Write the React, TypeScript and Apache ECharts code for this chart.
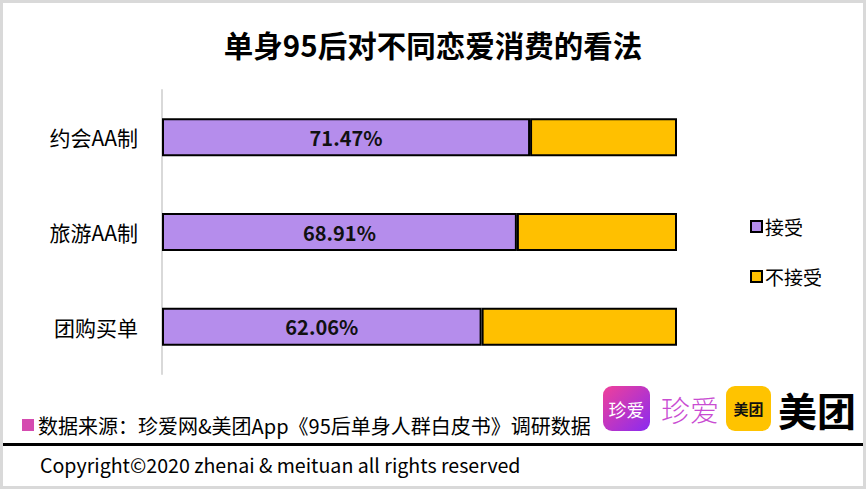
import React, { useEffect, useRef } from "react";
import * as echarts from "echarts";

const categories = ["约会AA制", "旅游AA制", "团购买单"];
const acceptValues = [71.47, 68.91, 62.06];
const rejectValues = [28.53, 31.09, 37.94];
const seriesNames = ["接受", "不接受"];
const titleText = "单身95后对不同恋爱消费的看法";
const sourceText = "数据来源：珍爱网&美团App《95后单身人群白皮书》调研数据";
const copyrightText = "Copyright©2020 zhenai & meituan all rights reserved";

const CJK = '"Noto Sans CJK SC", "Noto Sans", sans-serif';

export default function App() {
  const ref = useRef<HTMLDivElement>(null);
  useEffect(() => {
    if (!ref.current) return;
    const chart = echarts.init(ref.current, null, { renderer: "svg" });
    chart.setOption({
      animation: false,
      backgroundColor: "#ffffff",
      textStyle: { fontFamily: CJK },
      title: {
        text: titleText,
        left: "center",
        top: 24,
        textStyle: { fontSize: 29.5, fontWeight: "bold", color: "#000", fontFamily: CJK },
      },
      legend: {
        orient: "vertical",
        left: 745,
        top: 212,
        icon: "rect",
        itemWidth: 11,
        itemHeight: 11,
        itemGap: 31,
        data: seriesNames,
        itemStyle: { borderColor: "#000", borderWidth: 2 },
        textStyle: { fontSize: 19, color: "#000", fontFamily: CJK, padding: [0, 0, 0, -2] },
      },
      grid: { left: 162, right: 189, top: 90, bottom: 115, containLabel: false },
      xAxis: { type: "value", min: 0, max: 100, show: false },
      yAxis: {
        type: "category",
        inverse: true,
        data: categories,
        axisLine: { show: true, lineStyle: { color: "#d9d9d9", width: 2 } },
        axisTick: { show: false },
        axisLabel: { fontSize: 21, color: "#000", margin: 24, fontFamily: CJK },
        splitLine: { show: false },
      },
      series: [
        {
          name: seriesNames[0],
          type: "bar",
          stack: "total",
          barWidth: 38,
          data: acceptValues,
          itemStyle: { color: "#B58DEC", borderColor: "#000", borderWidth: 2 },
          label: {
            show: true,
            position: "inside",
            formatter: "{c}%",
            fontSize: 20,
            fontWeight: "bold",
            color: "#111",
            fontFamily: CJK,
          },
        },
        {
          name: seriesNames[1],
          type: "bar",
          stack: "total",
          barWidth: 38,
          data: rejectValues,
          itemStyle: { color: "#FFC000", borderColor: "#000", borderWidth: 2 },
        },
      ],
      graphic: [
        {
          type: "rect",
          shape: { x: 1.5, y: 1.5, width: 863, height: 486 },
          style: { fill: "none", stroke: "#d9d9d9", lineWidth: 3 },
          silent: true,
        },
        {
          type: "rect",
          shape: { x: 22, y: 419, width: 12, height: 12 },
          style: { fill: "#D54BB0" },
        },
        {
          type: "text",
          x: 38,
          y: 425,
          style: {
            text: sourceText,
            fontSize: 20,
            fill: "#000",
            fontFamily: CJK,
            verticalAlign: "middle",
          },
        },
        {
          type: "rect",
          shape: { x: 3, y: 443, width: 860, height: 3 },
          style: { fill: "#000" },
        },
        {
          type: "text",
          x: 40,
          y: 464,
          style: {
            text: copyrightText,
            fontSize: 19.6,
            fill: "#000",
            fontFamily: CJK,
            verticalAlign: "middle",
          },
        },
        {
          type: "rect",
          shape: { x: 603, y: 386, width: 47, height: 45, r: 9 },
          style: {
            fill: new echarts.graphic.LinearGradient(0, 0, 1, 1, [
              { offset: 0, color: "#F0409A" },
              { offset: 1, color: "#8A2BF0" },
            ]),
          },
        },
        {
          type: "text",
          x: 626.5,
          y: 408.5,
          style: {
            text: "珍爱",
            fontSize: 18,
            fill: "#fff",
            fontFamily: CJK,
            align: "center",
            verticalAlign: "middle",
          },
        },
        {
          type: "text",
          x: 690,
          y: 409,
          style: {
            text: "珍爱",
            fontSize: 29,
            fontWeight: 300,
            fill: "#C94CD2",
            fontFamily: CJK,
            align: "center",
            verticalAlign: "middle",
          },
        },
        {
          type: "rect",
          shape: { x: 726, y: 386, width: 45, height: 45, r: 9 },
          style: { fill: "#FFC300" },
        },
        {
          type: "text",
          x: 748.5,
          y: 408.5,
          style: {
            text: "美团",
            fontSize: 15,
            fontWeight: "bold",
            fill: "#111",
            fontFamily: CJK,
            align: "center",
            verticalAlign: "middle",
          },
        },
        {
          type: "text",
          x: 817,
          y: 409,
          style: {
            text: "美团",
            fontSize: 39,
            fontWeight: "bold",
            fill: "#000",
            fontFamily: CJK,
            align: "center",
            verticalAlign: "middle",
          },
        },
      ],
    });
    return () => chart.dispose();
  }, []);
  return (
    <div
      ref={ref}
      style={{ position: "fixed", left: 0, top: 0, width: 866, height: 489 }}
    />
  );
}
